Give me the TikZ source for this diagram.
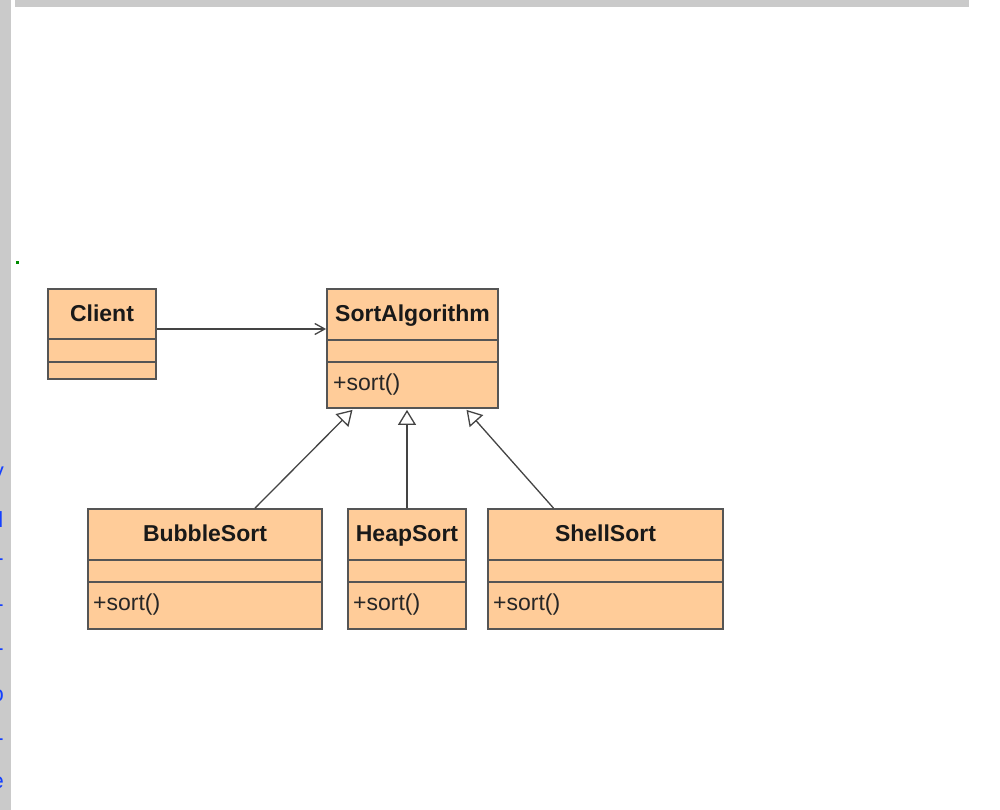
\documentclass[tikz,border=0pt]{standalone}
\usepackage{fontspec}
\setmainfont{Liberation Sans}
\usetikzlibrary{arrows.meta}

\definecolor{classfill}{HTML}{FFCC99}
\definecolor{classline}{HTML}{555555}
\definecolor{wirecol}{HTML}{444444}
\definecolor{framegray}{HTML}{CACACA}
\definecolor{linkblue}{HTML}{1440FF}

\tikzset{
  classbox/.style={draw=classline, fill=classfill, line width=1.8pt,
    rectangle, inner sep=0pt},
  classname/.style={font=\fontsize{23}{25}\selectfont\bfseries,
    text=black!90, inner sep=0pt, anchor=base},
  method/.style={font=\fontsize{23}{25}\selectfont,
    text=black!85, inner sep=0pt, anchor=base west},
  divider/.style={draw=classline, line width=1.8pt},
  assoc/.style={draw=wirecol, line width=1.3pt,
    -{Straight Barb[length=10pt,width=11pt,line width=1.3pt]}},
  generalize/.style={draw=wirecol, line width=1.3pt,
    -{Triangle[fill=white,length=15pt,width=18pt,line width=1.3pt]}},
  linkchar/.style={font=\fontsize{22}{24}\selectfont, text=linkblue,
    inner sep=0pt, anchor=base east},
}

\begin{document}
\begin{tikzpicture}[x=1pt,y=-1pt]
  \useasboundingbox (0,0) rectangle (1000,810);
  \fill[white] (0,0) rectangle (1000,810);

  % page frame: left strip and top rule
  \fill[framegray] (0,0) rectangle (11,810);
  \fill[framegray] (15,0) rectangle (969,7);
  \fill[green!55!black] (16,261) rectangle (19,264);

  % link text running off the left edge of the frame
  \begin{scope}
    \clip (0,0) rectangle (11,810);
    \node[linkchar] (l1) at (4,478) {y};
    \node[linkchar] (l2) at (3.5,527) {l};
    \node[linkchar] (l3) at (4,565) {-};
    \node[linkchar] (l4) at (4,611) {-};
    \node[linkchar] (l5) at (4,655) {-};
    \node[linkchar] (l6) at (4,701) {o};
    \node[linkchar] (l7) at (4,745) {-};
    \node[linkchar] (l8) at (4,788) {e};
  \end{scope}

  % Client
  \node[classbox, minimum width=108pt, minimum height=90pt] (client) at (102,334) {};
  \node[classname] (clientname) at (102,321) {Client};
  \draw[divider] ([yshift=-51pt]client.north west) -- ([yshift=-51pt]client.north east);
  \draw[divider] ([yshift=-73.5pt]client.north west) -- ([yshift=-73.5pt]client.north east);

  % SortAlgorithm
  \node[classbox, minimum width=171pt, minimum height=119pt] (sort) at (412.5,348.5) {};
  \node[classname] (sortname) at (412.5,321) {SortAlgorithm};
  \draw[divider] ([yshift=-52pt]sort.north west) -- ([yshift=-52pt]sort.north east);
  \draw[divider] ([yshift=-74pt]sort.north west) -- ([yshift=-74pt]sort.north east);
  \node[method] (sortop) at (333,390) {+sort()};

  % BubbleSort
  \node[classbox, minimum width=234pt, minimum height=120pt] (bubble) at (205,569) {};
  \node[classname] (bubblename) at (205,541) {BubbleSort};
  \draw[divider] ([yshift=-52pt]bubble.north west) -- ([yshift=-52pt]bubble.north east);
  \draw[divider] ([yshift=-74pt]bubble.north west) -- ([yshift=-74pt]bubble.north east);
  \node[method] (bubbleop) at (93,610) {+sort()};

  % HeapSort
  \node[classbox, minimum width=118pt, minimum height=120pt] (heap) at (407,569) {};
  \node[classname] (heapname) at (407,541) {HeapSort};
  \draw[divider] ([yshift=-52pt]heap.north west) -- ([yshift=-52pt]heap.north east);
  \draw[divider] ([yshift=-74pt]heap.north west) -- ([yshift=-74pt]heap.north east);
  \node[method] (heapop) at (353,610) {+sort()};

  % ShellSort
  \node[classbox, minimum width=235pt, minimum height=120pt] (shell) at (605.5,569) {};
  \node[classname] (shellname) at (605.5,541) {ShellSort};
  \draw[divider] ([yshift=-52pt]shell.north west) -- ([yshift=-52pt]shell.north east);
  \draw[divider] ([yshift=-74pt]shell.north west) -- ([yshift=-74pt]shell.north east);
  \node[method] (shellop) at (493,610) {+sort()};

  % association Client -> SortAlgorithm
  \path (client.east) ++(0,-5) coordinate (assocstart);
  \path (sort.west) ++(0,-19.5) coordinate (assocend);
  \draw[assoc] (assocstart) -- (assocend);

  % generalizations
  \draw[generalize] ([xshift=50pt]bubble.north) -- ([xshift=-60pt,yshift=-1pt]sort.south);
  \draw[generalize] (heap.north) -- ([yshift=-1pt]heap.north |- sort.south);
  \draw[generalize] ([xshift=-52pt]shell.north) -- ([xshift=54pt,yshift=-1pt]sort.south);
\end{tikzpicture}
\end{document}
